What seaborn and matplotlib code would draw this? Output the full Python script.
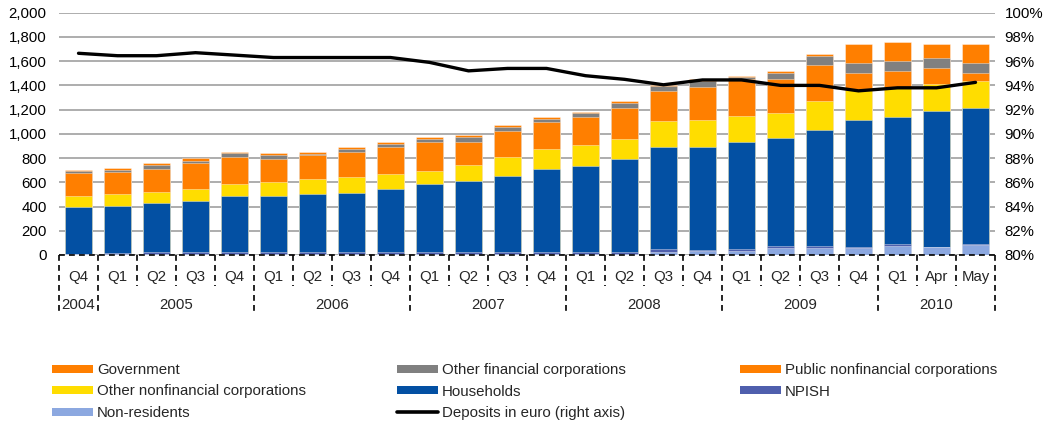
import numpy as np
import matplotlib
matplotlib.use("Agg")
import matplotlib.pyplot as plt
import seaborn as sns
from matplotlib.patches import Patch
from matplotlib.lines import Line2D

sns.set_theme(style="white")
plt.rcParams["font.family"] = ["Liberation Sans", "DejaVu Sans"]

# category axis
quarters = ["Q4", "Q1", "Q2", "Q3", "Q4", "Q1", "Q2", "Q3", "Q4", "Q1", "Q2", "Q3",
            "Q4", "Q1", "Q2", "Q3", "Q4", "Q1", "Q2", "Q3", "Q4", "Q1", "Apr", "May"]
years = ["2004", "2005", "2006", "2007", "2008", "2009", "2010"]
year_counts = [1, 4, 4, 4, 4, 4, 3]

# deposits by sector (EUR millions), bottom of stack first
non_residents = [8, 8, 10, 10, 10, 10, 10, 10, 10, 10, 10, 10, 10, 10, 10, 27, 35, 33, 58, 58, 55, 74, 67, 85]
npish = [4, 5, 15, 15, 15, 15, 15, 15, 15, 15, 15, 15, 15, 15, 15, 20, 6, 17, 16, 16, 14, 17, 3, 3]
households = [383, 391, 406, 423, 464, 464, 476, 487, 520, 561, 588, 627,
              685, 712, 767, 842, 850, 882, 889, 957, 1045, 1050, 1116, 1122]
other_nfc = [95, 99, 89, 97, 99, 111, 126, 132, 123, 110, 127, 157,
             167, 168, 168, 214, 223, 212, 209, 240, 245, 248, 222, 226]
public_nfc = [185, 184, 192, 211, 221, 192, 195, 206, 226, 236, 192, 211,
              223, 236, 250, 250, 270, 306, 280, 294, 145, 129, 137, 68]
other_fin = [16, 12, 28, 22, 30, 33, 14, 27, 22, 23, 42, 39, 25, 33, 42, 41, 54, 16, 52, 80, 83, 83, 83, 83]
government = [9, 16, 17, 20, 13, 14, 14, 14, 16, 19, 16, 16, 16, 8, 16, 9, 12, 11, 14, 13, 154, 156, 113, 154]

# share of deposits in euro, %
euro_share = [96.65, 96.45, 96.45, 96.7, 96.5, 96.3, 96.3, 96.3, 96.3, 95.9, 95.2, 95.4,
              95.4, 94.8, 94.5, 94.05, 94.45, 94.45, 94.0, 94.0, 93.55, 93.8, 93.8, 94.25]

periods = []
for y, n in zip(years, year_counts):
    periods += [y] * n
periods = [p + " " + q for p, q in zip(periods, quarters)]

layers = [("Non-residents", non_residents, "#8CA8E0"),
          ("NPISH", npish, "#4F5FAD"),
          ("Households", households, "#0350A3"),
          ("Other nonfinancial corporations", other_nfc, "#FFDD00"),
          ("Public nonfinancial corporations", public_nfc, "#FF7F00"),
          ("Other financial corporations", other_fin, "#808080"),
          ("Government", government, "#FF7F00")]

cum = np.cumsum(np.array([l[1] for l in layers]), axis=0)
fs = 10.8

fig = plt.figure(figsize=(10.49, 4.26), dpi=100)
ax = fig.add_axes([59 / 1049, 1 - 255 / 426, 936 / 1049, 242.3 / 426])

# stacked bars: draw cumulative totals from the top layer down
for i in reversed(range(len(layers))):
    sns.barplot(x=periods, y=cum[i], color=layers[i][2], saturation=1, width=0.69,
                edgecolor=(1, 1, 1, 0.45), linewidth=0.6, ax=ax)

ax.set_xlim(-0.5, len(periods) - 0.5)
ax.set_ylim(0, 2000)
ax.set_yticks(range(0, 2001, 200))
ax.set_yticklabels([f"{v:,}" for v in range(0, 2001, 200)])
ax.yaxis.grid(True, color="#A0A0A0", linewidth=1.2)
ax.set_axisbelow(True)
ax.set_xticklabels([])
ax.set_xlabel("")
ax.tick_params(axis="both", length=0, labelsize=fs, labelcolor="black")
ax.tick_params(axis="y", pad=9)
for s in ax.spines.values():
    s.set_visible(False)

ax2 = ax.twinx()
sns.lineplot(x=np.arange(len(periods)), y=euro_share, color="black", linewidth=2.4, ax=ax2)
ax2.set_ylim(80, 100)
ax2.set_yticks(range(80, 101, 2))
ax2.set_yticklabels([f"{v}%" for v in range(80, 101, 2)])
ax2.tick_params(axis="y", length=0, labelsize=fs, labelcolor="black", pad=7)
ax2.grid(False)
for s in ax2.spines.values():
    s.set_visible(False)

# two-level category axis with dashed separators
tr = ax.get_xaxis_transform()
dash = dict(color="black", linewidth=1.2, linestyle=(0, (3.5, 2.5)), clip_on=False, transform=tr)
ax.plot([-0.5, len(periods) - 0.5], [0, 0], zorder=5, **dash)
row1 = -31 / 242.3
row2 = -59 / 242.3
bounds = np.cumsum([0] + year_counts) - 0.5
for i in range(1, len(periods)):
    if i - 0.5 not in bounds:
        ax.plot([i - 0.5, i - 0.5], [0, row1], **dash)
for b in bounds:
    ax.plot([b, b], [0, row2], **dash)
for i, q in enumerate(quarters):
    ax.text(i, -22 / 242.3, q, transform=tr, ha="center", va="center", fontsize=fs)
for y, b0, b1 in zip(years, bounds[:-1], bounds[1:]):
    ax.text((b0 + b1) / 2, -50 / 242.3, y, transform=tr, ha="center", va="center", fontsize=fs)

# legend in three columns
handles = {name: Patch(facecolor=c, edgecolor="none") for name, _, c in layers}
handles["Deposits in euro (right axis)"] = Line2D([], [], color="black", linewidth=2.6)
columns = [["Government", "Other nonfinancial corporations", "Non-residents"],
           ["Other financial corporations", "Households", "Deposits in euro (right axis)"],
           ["Public nonfinancial corporations", "NPISH"]]
for names, x0 in zip(columns, [52, 397, 740]):
    fig.legend([handles[n] for n in names], names, loc="upper left",
               bbox_to_anchor=(x0 / 1049, 1 - 363 / 426), frameon=False,
               fontsize=fs, handlelength=2.7, handleheight=0.47, handletextpad=0.3,
               labelspacing=0.5, borderpad=0, borderaxespad=0)

fig.savefig("out.png", dpi=100)
